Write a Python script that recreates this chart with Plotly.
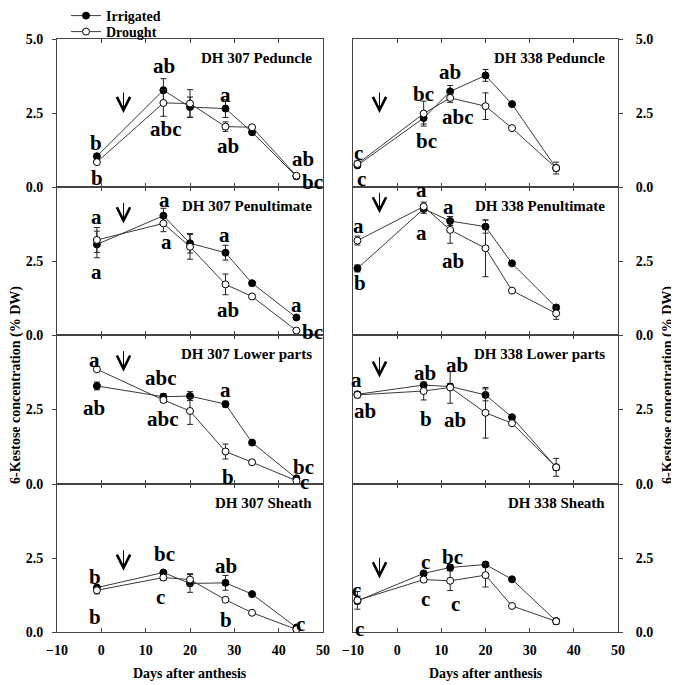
import plotly.graph_objects as go
from plotly.subplots import make_subplots

# ---------------- data ----------------
days_307 = [-1, 14, 20, 28, 34, 44]
days_338 = [-9, 6, 12, 20, 26, 36]

dh307_ped_irr = [1.04, 3.27, 2.70, 2.65, 1.85, 0.36]
dh307_ped_irr_err = [0.08, 0.39, 0.34, 0.30, 0.08, 0.05]
dh307_ped_dro = [0.84, 2.84, 2.82, 2.04, 2.02, 0.38]
dh307_ped_dro_err = [0.06, 0.45, 0.47, 0.16, 0.06, 0.05]

dh307_pen_irr = [3.06, 4.03, 3.10, 2.78, 1.75, 0.59]
dh307_pen_irr_err = [0.45, 0.25, 0.33, 0.25, 0.05, 0.05]
dh307_pen_dro = [3.21, 3.77, 2.98, 1.71, 1.30, 0.15]
dh307_pen_dro_err = [0.42, 0.28, 0.42, 0.35, 0.05, 0.04]

dh307_low_irr = [3.29, 2.93, 2.95, 2.68, 1.39, 0.19]
dh307_low_irr_err = [0.13, 0.10, 0.15, 0.10, 0.05, 0.04]
dh307_low_dro = [3.85, 2.82, 2.45, 1.09, 0.73, 0.11]
dh307_low_dro_err = [0.05, 0.08, 0.45, 0.25, 0.05, 0.03]

dh307_sh_irr = [1.50, 2.01, 1.64, 1.66, 1.28, 0.15]
dh307_sh_irr_err = [0.08, 0.06, 0.30, 0.25, 0.05, 0.03]
dh307_sh_dro = [1.41, 1.84, 1.77, 1.09, 0.65, 0.09]
dh307_sh_dro_err = [0.12, 0.10, 0.20, 0.05, 0.04, 0.03]

dh338_ped_irr = [0.73, 2.33, 3.23, 3.77, 2.80, 0.64]
dh338_ped_irr_err = [0.05, 0.20, 0.20, 0.20, 0.05, 0.10]
dh338_ped_dro = [0.78, 2.48, 3.01, 2.73, 1.99, 0.64]
dh338_ped_dro_err = [0.10, 0.42, 0.15, 0.45, 0.05, 0.20]

dh338_pen_irr = [2.25, 4.26, 3.85, 3.66, 2.42, 0.93]
dh338_pen_irr_err = [0.12, 0.15, 0.15, 0.22, 0.05, 0.08]
dh338_pen_dro = [3.19, 4.34, 3.55, 2.93, 1.50, 0.73]
dh338_pen_dro_err = [0.15, 0.15, 0.45, 0.96, 0.05, 0.20]

dh338_low_irr = [3.01, 3.32, 3.27, 2.99, 2.24, 0.56]
dh338_low_irr_err = [0.08, 0.05, 0.10, 0.20, 0.05, 0.10]
dh338_low_dro = [2.99, 3.12, 3.24, 2.39, 2.04, 0.56]
dh338_low_dro_err = [0.10, 0.30, 0.53, 0.85, 0.05, 0.30]

dh338_sh_irr = [1.05, 1.98, 2.18, 2.28, 1.78, 0.37]
dh338_sh_irr_err = [0.10, 0.05, 0.10, 0.08, 0.05, 0.05]
dh338_sh_dro = [1.07, 1.77, 1.73, 1.92, 0.88, 0.36]
dh338_sh_dro_err = [0.30, 0.08, 0.33, 0.40, 0.05, 0.10]

panel_titles = [
    ["DH 307 Peduncle", "DH 338 Peduncle"],
    ["DH 307 Penultimate", "DH 338 Penultimate"],
    ["DH 307 Lower parts", "DH 338 Lower parts"],
    ["DH 307 Sheath", "DH 338 Sheath"],
]

# significance letters: (x, y, text)
letters = [
    [
        [(-1.2, 1.49, "b"), (-1.0, 0.30, "b"), (14.2, 4.08, "ab"), (14.6, 1.96, "abc"),
         (28.1, 3.12, "a"), (28.5, 1.37, "ab"), (45.5, 0.95, "ab"), (47.6, 0.16, "bc")],
        [(-8.7, 1.15, "c"), (-8.0, 0.27, "c"), (5.9, 3.14, "bc"), (6.7, 1.54, "bc"),
         (12.0, 3.87, "ab"), (13.8, 2.36, "abc")],
    ],
    [
        [(-1.2, 4.00, "a"), (-1.2, 2.14, "a"), (14.3, 4.56, "a"), (14.6, 3.15, "a"),
         (27.8, 3.38, "a"), (28.5, 0.84, "ab"), (44.1, 1.01, "a"), (47.6, 0.11, "bc")],
        [(-8.7, 3.68, "a"), (-8.5, 1.75, "b"), (5.6, 4.90, "a"), (5.6, 3.46, "a"),
         (11.6, 4.34, "a"), (12.7, 2.50, "ab")],
    ],
    [
        [(-1.6, 4.16, "a"), (-1.6, 2.54, "ab"), (13.4, 3.55, "abc"), (13.8, 2.17, "abc"),
         (28.1, 3.15, "a"), (28.5, 0.25, "b"), (45.7, 0.58, "bc"), (45.9, 0.08, "c")],
        [(-9.1, 3.49, "a"), (-7.2, 2.45, "ab"), (6.3, 3.74, "ab"), (6.5, 2.17, "b"),
         (13.5, 3.99, "ab"), (13.1, 2.15, "ab")],
    ],
    [
        [(-1.4, 1.86, "b"), (-1.4, 0.51, "b"), (14.2, 2.65, "bc"), (13.4, 1.19, "c"),
         (28.2, 2.22, "ab"), (28.2, 0.40, "b"), (45.0, 0.28, "c"), (45.3, -0.26, "c")],
        [(-9.3, 1.41, "c"), (-8.5, 0.11, "c"), (6.5, 2.37, "c"), (6.5, 1.13, "c"),
         (12.6, 2.52, "bc"), (13.1, 0.94, "c")],
    ],
]

# drought onset arrows: (x, tip y)
arrows = [
    [(5, 2.50), (-4, 2.50)],
    [(5, 3.77), (-4, 4.11)],
    [(5, 3.77), (-4, 3.57)],
    [(5, 2.07), (-4, 1.81)],
]

x_ticks = [-10, 0, 10, 20, 30, 40, 50]
y_label = "6-Kestose concentration (% DW)"
x_label = "Days after anthesis"

series = [
    [(days_307, dh307_ped_irr, dh307_ped_irr_err, dh307_ped_dro, dh307_ped_dro_err),
     (days_338, dh338_ped_irr, dh338_ped_irr_err, dh338_ped_dro, dh338_ped_dro_err)],
    [(days_307, dh307_pen_irr, dh307_pen_irr_err, dh307_pen_dro, dh307_pen_dro_err),
     (days_338, dh338_pen_irr, dh338_pen_irr_err, dh338_pen_dro, dh338_pen_dro_err)],
    [(days_307, dh307_low_irr, dh307_low_irr_err, dh307_low_dro, dh307_low_dro_err),
     (days_338, dh338_low_irr, dh338_low_irr_err, dh338_low_dro, dh338_low_dro_err)],
    [(days_307, dh307_sh_irr, dh307_sh_irr_err, dh307_sh_dro, dh307_sh_dro_err),
     (days_338, dh338_sh_irr, dh338_sh_irr_err, dh338_sh_dro, dh338_sh_dro_err)],
]

# ---------------- figure ----------------
OFF = 8                      # page body margin
W, H = 679 - OFF, 685 - OFF
FONT = "Liberation Serif"
AX = "#444444"
fig = make_subplots(rows=4, cols=2)

def px_x(p):
    return (p - OFF) / W

def px_y(p):
    return 1 - (p - OFF) / H

col_px = [(57, 323), (353, 618)]
row_px = [(39, 187), (187, 335), (335, 484), (484, 632)]

for r in range(4):
    for c in range(2):
        days, irr, irr_e, dro, dro_e = series[r][c]
        first = (r == 0 and c == 0)
        fig.add_trace(go.Scatter(
            x=days, y=irr, name="Irrigated", mode="lines+markers",
            line=dict(color="#3a3a3a", width=1),
            marker=dict(symbol="circle", size=7, color="black", line=dict(color="black", width=1)),
            error_y=dict(type="data", array=irr_e, visible=True, color="#222", thickness=1, width=3),
            showlegend=first, legend="legend"), row=r + 1, col=c + 1)
        fig.add_trace(go.Scatter(
            x=days, y=dro, name="Drought", mode="lines+markers",
            line=dict(color="#3a3a3a", width=1),
            marker=dict(symbol="circle", size=7, color="white", line=dict(color="black", width=1)),
            error_y=dict(type="data", array=dro_e, visible=True, color="#222", thickness=1, width=3),
            showlegend=first, legend="legend2"), row=r + 1, col=c + 1)

        idx = r * 2 + c + 1
        xa = "xaxis" if idx == 1 else f"xaxis{idx}"
        ya = "yaxis" if idx == 1 else f"yaxis{idx}"
        xref = "x" if idx == 1 else f"x{idx}"
        yref = "y" if idx == 1 else f"y{idx}"
        x0, x1 = col_px[c]
        y0, y1 = row_px[r]
        fig.layout[xa].update(
            domain=[px_x(x0), px_x(x1)], range=[-10, 50], tickvals=x_ticks,
            showticklabels=(r == 3), ticks="inside", ticklen=4, tickcolor=AX,
            mirror="allticks", ticklabelstandoff=5,
            showline=True, linecolor=AX, linewidth=1, showgrid=False, zeroline=False,
            tickfont=dict(family=FONT, size=14, color="black", weight="bold"))
        fig.layout[ya].update(
            domain=[px_y(y1), px_y(y0)], range=[0, 5],
            tickvals=[0, 2.5, 5] if r == 0 else [0, 2.5],
            ticktext=["0.0", "2.5", "5.0"] if r == 0 else ["0.0", "2.5"],
            side="left" if c == 0 else "right",
            ticks="outside", ticklen=4, tickcolor=AX, mirror=True,
            ticklabelstandoff=6 if c == 0 else 10,
            showline=True, linecolor=AX, linewidth=1, showgrid=False, zeroline=False,
            tickfont=dict(family=FONT, size=14, color="black", weight="bold"))

        # panel title
        fig.add_annotation(x=48 if c == 0 else 47.6, y=4.36, xref=xref, yref=yref,
                           text=panel_titles[r][c], showarrow=False,
                           xanchor="right", yanchor="middle",
                           font=dict(family=FONT, size=15, color="black", weight="bold"))
        # letters
        for (lx, ly, lt) in letters[r][c]:
            fig.add_annotation(x=lx, y=ly, xref=xref, yref=yref, text=lt, showarrow=False,
                               xanchor="center", yanchor="middle",
                               font=dict(family=FONT, size=21, color="black", weight="bold"))
        # arrow
        ax_, ay_ = arrows[r][c]
        fig.add_annotation(x=ax_, y=ay_, xref=xref, yref=yref, text="", showarrow=True,
                           arrowhead=5, arrowsize=2.6, arrowwidth=1, arrowcolor="black",
                           ax=0, ay=-22)

# axis titles
for cx in [(57 + 323) / 2, (353 + 618) / 2]:
    fig.add_annotation(x=px_x(cx), y=px_y(673), xref="paper", yref="paper", text=x_label,
                       showarrow=False, xanchor="center", yanchor="middle",
                       font=dict(family=FONT, size=14, color="black", weight="bold"))
for lx in [16, 668]:
    fig.add_annotation(x=px_x(lx), y=px_y(385), xref="paper", yref="paper", text=y_label,
                       textangle=-90, showarrow=False, xanchor="center", yanchor="middle",
                       font=dict(family=FONT, size=14, color="black", weight="bold"))

leg_common = dict(xanchor="left", yanchor="middle", bgcolor="rgba(0,0,0,0)", borderwidth=0,
                  font=dict(family=FONT, size=14, color="black", weight="bold"))
fig.update_layout(
    width=W, height=H, template="none",
    margin=dict(l=0, r=0, t=0, b=0, autoexpand=False),
    paper_bgcolor="white", plot_bgcolor="white",
    showlegend=True,
    legend=dict(x=px_x(66), y=px_y(16), **leg_common),
    legend2=dict(x=px_x(66), y=px_y(32), **leg_common),
)

fig.write_html("out.html")
